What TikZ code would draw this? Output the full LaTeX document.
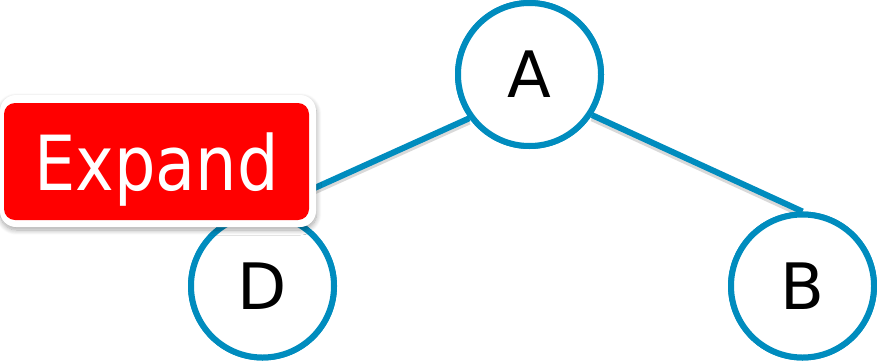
\documentclass[tikz,border=0pt]{standalone}
\usepackage{fontspec}
\setmainfont{DejaVu Sans}
\usetikzlibrary{shadows,shadows.blur}
\definecolor{nodeblue}{RGB}{0,140,190}
\definecolor{expred}{RGB}{255,0,0}
\tikzset{
  treenode/.style={circle, draw=nodeblue, line width=6pt, fill=white,
    minimum size=143pt, inner sep=0pt, font=\fontsize{64}{64}\selectfont},
  edgeline/.style={draw=nodeblue, line width=6pt},
  edgeshadow/.style={draw=black, opacity=0.15, line width=6.5pt},
  expandframe/.style={rounded corners=16pt, fill=white,
    blur shadow={shadow xshift=0.5pt, shadow yshift=-3pt, shadow opacity=35,
      shadow blur radius=5pt, shadow blur steps=10}},
  expandbox/.style={rounded corners=11pt, fill=expred},
}
\begin{document}
\begin{tikzpicture}[x=1pt,y=-1pt]
\useasboundingbox (0,0) rectangle (877,362);
\node[treenode] (A) at (529.5,74.5) {A};
\node[treenode] (D) at (262.5,286) {D};
\node[treenode] (B) at (802.5,286) {B};
% shadows of connectors
\draw[edgeshadow, transform canvas={yshift=-3pt}] (A.-33) -- (B.north);
\draw[edgeshadow, transform canvas={yshift=-3pt}] (A.-144) -- (D.north);
\draw[edgeline] (A.-33) -- (B.north);
\draw[edgeline] (A.-144) -- (D.north);
% redraw circles over connector ends
\node[treenode] at (529.5,74.5) {A};
\node[treenode] at (262.5,286) {D};
\node[treenode] at (802.5,286) {B};
% Expand label
\path[expandframe] (0,95) rectangle (316,227);
\path[expandbox] (4,103) rectangle (309,220);
\node[anchor=base, text=white, inner sep=0pt, font=\fontsize{76}{76}\selectfont] (E) at (156.5,190) {\scalebox{0.86}[1]{Expand}};
\end{tikzpicture}
\end{document}
